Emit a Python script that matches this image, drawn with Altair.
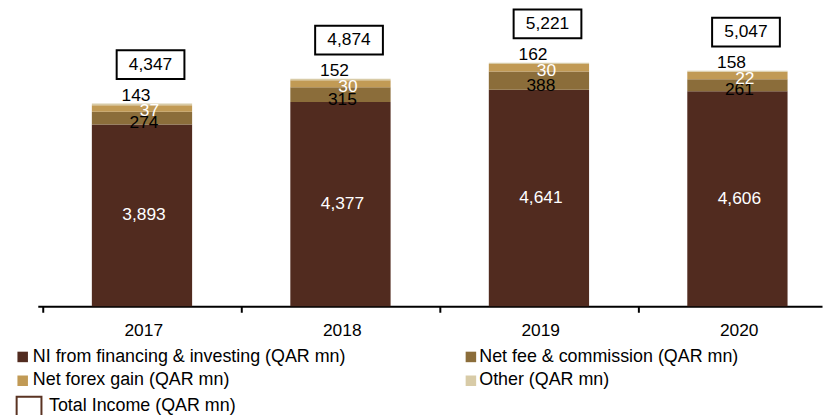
import altair as alt
import pandas as pd

# ---- data ----
years = [2017, 2018, 2019, 2020]
ni_financing = [3893, 4377, 4641, 4606]
net_fee = [274, 315, 388, 261]
net_forex = [143, 152, 162, 158]
other_income = [37, 30, 30, 22]
total_income = [4347, 4874, 5221, 5047]

series_names = [
    "NI from financing & investing (QAR mn)",
    "Net fee & commission (QAR mn)",
    "Net forex gain (QAR mn)",
    "Other (QAR mn)",
]
series_colors = ["#512B1F", "#8B6D3A", "#C19A55", "#D8CBA7"]
total_name = "Total Income (QAR mn)"

FONT = "Liberation Sans, Arial, sans-serif"
FS = 17.5
LFS = 18
W, H = 790, 299
BAND = 202.5
X_DOMAIN = [2016.5, 2016.5 + W / BAND]
Y_DOMAIN = [0, 6360]

wide = pd.DataFrame({
    "year": years, "ni": ni_financing, "fee": net_fee,
    "forex": net_forex, "other": other_income, "total": total_income,
})
rows = []
for i, (name, vals) in enumerate(zip(series_names, [ni_financing, net_fee, net_forex, other_income])):
    for yr, v in zip(years, vals):
        rows.append({"year": yr, "series": name, "order": i, "value": v})
long = pd.DataFrame(rows)

xscale = alt.Scale(domain=X_DOMAIN, nice=False, zero=False)
yscale = alt.Scale(domain=Y_DOMAIN, nice=False, zero=True)
x_axis = alt.Axis(
    values=[2016.5, 2017.5, 2018.5, 2019.5],
    labelExpr="format(datum.value + 0.5, 'd')",
    labelOffset=BAND / 2, tickSize=6, tickWidth=2, tickColor="black",
    domainColor="black", domainWidth=2, labelFont=FONT, labelFontSize=FS,
    labelColor="black", labelPadding=9, grid=False, title=None,
    labelOverlap=False, labelBound=False, labelFlush=False,
)
X = alt.X("year:Q", scale=xscale, axis=x_axis)

bars = alt.Chart(long).mark_bar(size=101).encode(
    x=X,
    y=alt.Y("value:Q", scale=yscale, axis=None, stack="zero"),
    color=alt.Color("series:N", scale=alt.Scale(domain=series_names, range=series_colors), legend=None),
    order=alt.Order("order:Q", sort="ascending"),
)

base = alt.Chart(wide)


def seg_label(expr, field, color, dx, dy):
    return base.transform_calculate(ypos=expr).mark_text(
        font=FONT, fontSize=FS, color=color, dx=dx, dy=dy, align="center", baseline="middle"
    ).encode(
        x=X,
        y=alt.Y("ypos:Q", scale=yscale, axis=None),
        text=alt.Text(f"{field}:Q", format=","),
    )


lab_ni = seg_label("datum.ni / 2", "ni", "white", 2, 0)
lab_fee = seg_label("datum.ni + datum.fee / 2", "fee", "black", 2, 5)
lab_forex = seg_label("datum.total", "forex", "black", -6, -7.5)
lab_other = seg_label("datum.total", "other", "white", 7.5, 8)

boxes = base.mark_rect(
    fill="white", stroke="black", strokeWidth=2,
    xOffset=-25.5, x2Offset=42.75, yOffset=-53.5, y2Offset=-24.5,
).encode(
    x=X, x2="year:Q",
    y=alt.Y("total:Q", scale=yscale, axis=None), y2="total:Q",
)
box_text = base.mark_text(
    font=FONT, fontSize=FS, color="black", dx=8.6, dy=-39, align="center", baseline="middle"
).encode(
    x=X, y=alt.Y("total:Q", scale=yscale, axis=None), text=alt.Text("total:Q", format=","),
)

# ---- legend (manual, below the axis) ----
legend_layers = []
sq_pos = [(-15.2, 350), (436.3, 350), (-15.2, 374), (436.3, 374)]
txt_pos = [(-5, 350), (444.7, 350), (-5, 373), (444.7, 373)]
for name, col, (sx, sy), (tx, ty) in zip(series_names, series_colors, sq_pos, txt_pos):
    d = pd.DataFrame({"name": [name]})
    legend_layers.append(
        alt.Chart(d).mark_square(size=112, color=col, opacity=1).encode(x=alt.value(sx), y=alt.value(sy))
    )
    legend_layers.append(
        alt.Chart(d).mark_text(font=FONT, fontSize=LFS, color="black", align="left", baseline="middle").encode(
            x=alt.value(tx), y=alt.value(ty), text="name:N")
    )
dt = pd.DataFrame({"name": [total_name]})
legend_layers.append(
    alt.Chart(dt).mark_rect(fill="white", stroke="#5A3322", strokeWidth=2).encode(
        x=alt.value(-21.3), x2=alt.value(3.7), y=alt.value(390), y2=alt.value(414))
)
legend_layers.append(
    alt.Chart(dt).mark_text(font=FONT, fontSize=LFS, color="black", align="left", baseline="middle").encode(
        x=alt.value(11.3), y=alt.value(399.3), text="name:N")
)

chart = alt.layer(
    bars, lab_ni, lab_fee, lab_forex, lab_other, boxes, box_text, *legend_layers
).properties(
    width=W, height=H,
    padding={"left": 30, "top": 0, "right": 3, "bottom": 108},
    autosize=alt.AutoSizeParams(type="none"),
    background="white",
).configure_view(stroke=None)

chart.save("out.html", embed_options={"renderer": "svg", "actions": False})
